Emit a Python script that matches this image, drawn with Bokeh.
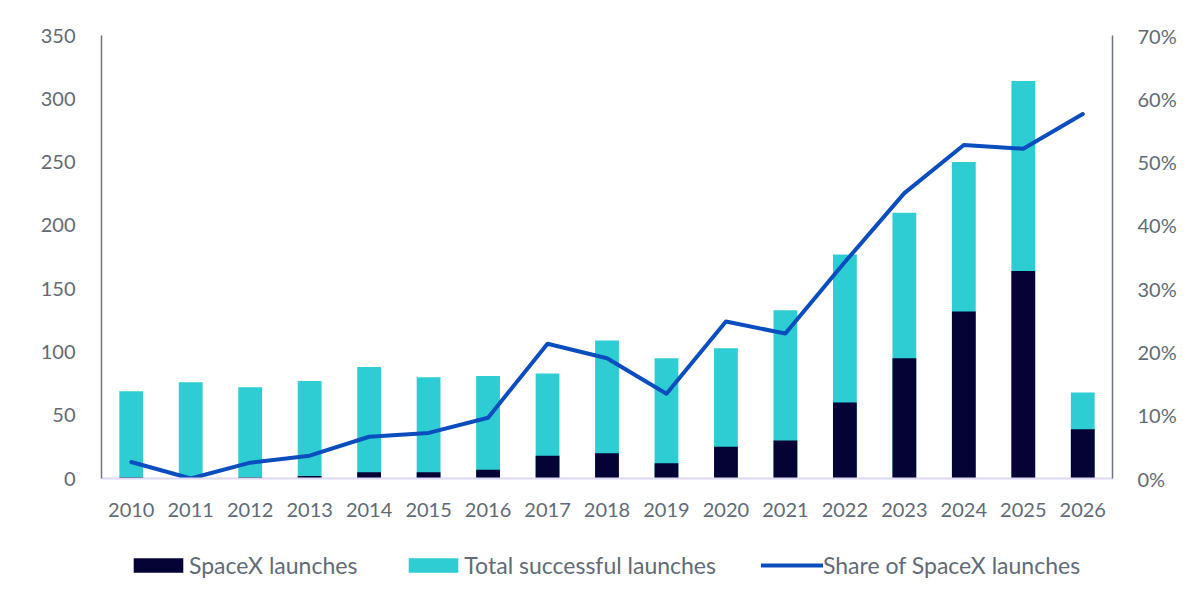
from bokeh.plotting import figure
from bokeh.models import (ColumnDataSource, Range1d, LinearAxis, FixedTicker,
                          PrintfTickFormatter, Legend, LegendItem)
from bokeh.layouts import column
from bokeh.embed import file_html
from bokeh.resources import INLINE

years = [str(y) for y in range(2010, 2027)]
total_launches = [69, 76, 72, 77, 88, 80, 81, 83, 109, 95, 103, 133, 177, 210, 250, 314, 68]
spacex_launches = [1, 0, 1, 2, 5, 5, 7, 18, 20, 12, 25, 30, 60, 95, 132, 164, 39]
spacex_share = [2.6, 0.0, 2.5, 3.6, 6.6, 7.2, 9.6, 21.3, 19.0, 13.4, 24.8, 22.9, 34.2, 45.1, 52.7, 52.1, 57.6]
left_ticks = [0, 50, 100, 150, 200, 250, 300, 350]
right_ticks = [0, 10, 20, 30, 40, 50, 60, 70]
series_labels = ["SpaceX launches", "Total successful launches", "Share of SpaceX launches"]

FONT = "Lato"
TXT = "#5f6b76"
DARK = "#050336"
CYAN = "#2ecdd3"
BLUE = "#0a4dbf"

src = ColumnDataSource(dict(year=years, total=total_launches,
                            spacex=spacex_launches, share=spacex_share))


def draw(fig, source, visible=True):
    r_total = fig.vbar(x="year", top="total", width=0.4, source=source,
                       fill_color=CYAN, line_color=None, visible=visible)
    r_spx = fig.vbar(x="year", top="spacex", width=0.4, source=source,
                     fill_color=DARK, line_color=None, visible=visible)
    r_line = fig.line(x="year", y="share", source=source, y_range_name="pct",
                      line_color=BLUE, line_width=4, line_join="round", line_cap="round",
                      visible=visible)
    return r_spx, r_total, r_line


p = figure(x_range=years, y_range=Range1d(0, 350), width=1200, height=540,
           output_backend="svg", toolbar_location=None,
           min_border_left=101, min_border_right=88,
           min_border_top=35, min_border_bottom=62)
p.outline_line_color = None
p.xgrid.grid_line_color = None
p.ygrid.grid_line_color = None
p.extra_y_ranges = {"pct": Range1d(0, 70)}
draw(p, src)

# left axis
ya = p.yaxis[0]
ya.ticker = FixedTicker(ticks=left_ticks)
ya.axis_line_color = "#6e7680"
ya.axis_line_width = 1.5
ya.major_tick_line_color = None
ya.minor_tick_line_color = None
ya.major_tick_out = 0
ya.major_label_text_font = FONT
ya.major_label_text_font_size = "20px"
ya.major_label_text_color = TXT
ya.major_label_standoff = 26

# right axis
ra = LinearAxis(y_range_name="pct", ticker=FixedTicker(ticks=right_ticks),
                formatter=PrintfTickFormatter(format="%d%%"))
ra.axis_line_color = "#6e7680"
ra.axis_line_width = 1.5
ra.major_tick_line_color = None
ra.minor_tick_line_color = None
ra.major_tick_out = 0
ra.major_label_text_font = FONT
ra.major_label_text_font_size = "20px"
ra.major_label_text_color = TXT
ra.major_label_standoff = 25
p.add_layout(ra, "right")

# x axis
xa = p.xaxis[0]
xa.axis_line_color = "#dcd8f6"
xa.axis_line_width = 2
xa.major_tick_line_color = None
xa.minor_tick_line_color = None
xa.major_tick_out = 0
xa.major_label_text_font = FONT
xa.major_label_text_font_size = "20px"
xa.major_label_text_color = TXT
xa.major_label_standoff = 24

# legend strip below the chart (series drawn hidden, only legend swatches show)
pl = figure(x_range=years, y_range=Range1d(0, 350), width=1200, height=69,
            output_backend="svg", toolbar_location=None,
            x_axis_location=None, y_axis_location=None,
            min_border_left=0, min_border_right=0, min_border_top=0, min_border_bottom=0)
pl.outline_line_color = None
pl.xgrid.grid_line_color = None
pl.ygrid.grid_line_color = None
pl.extra_y_ranges = {"pct": Range1d(0, 70)}
rs = draw(pl, src, visible=False)

legend = Legend(items=[LegendItem(label=lab, renderers=[r]) for lab, r in zip(series_labels, rs)],
                orientation="horizontal", location=(26, 30))
legend.border_line_color = None
legend.background_fill_alpha = 0
legend.inactive_fill_alpha = 0
legend.padding = 0
legend.margin = 0
legend.glyph_width = 62
legend.glyph_height = 18
legend.label_standoff = 0
legend.spacing = 45
legend.label_text_font = FONT
legend.label_text_font_size = "23px"
legend.label_text_color = TXT
pl.add_layout(legend, "center")

open("out.html", "w").write(file_html(column(p, pl, spacing=0), INLINE))
